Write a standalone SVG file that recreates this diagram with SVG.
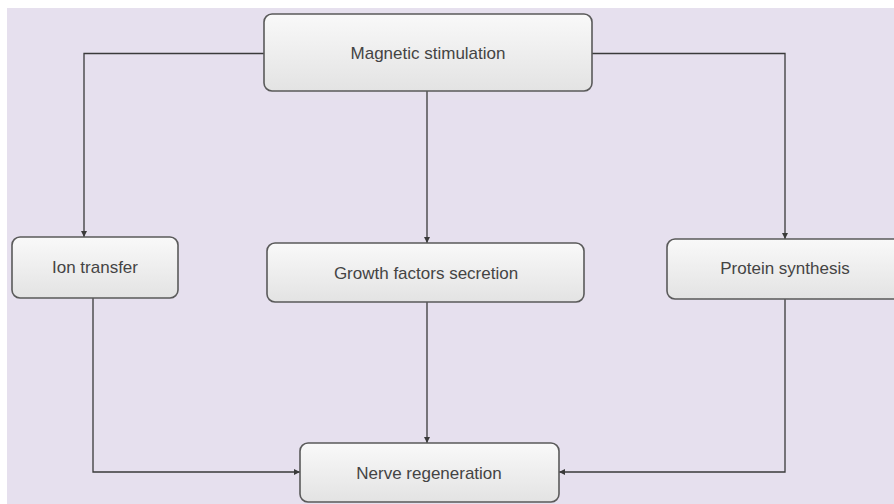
<svg xmlns="http://www.w3.org/2000/svg" width="894" height="504" viewBox="0 0 894 504">
<defs>
<linearGradient id="boxg" x1="0" y1="0" x2="0" y2="1">
<stop offset="0" stop-color="#f9f9f9"/>
<stop offset="1" stop-color="#e3e3e3"/>
</linearGradient>
<marker id="arr" viewBox="0 0 10 10" refX="10" refY="5" markerWidth="6" markerHeight="6" markerUnits="userSpaceOnUse" orient="auto">
<path d="M0,0 L10,5 L0,10 z" fill="#3a3a3a"/>
</marker>
</defs>
<style>
.box{fill:url(#boxg);stroke:#5a5a5a;stroke-width:1.6}
.lbl{font-family:"Liberation Sans",Arial,sans-serif;font-size:17px;fill:#444;text-anchor:middle}
.con{fill:none;stroke:#3a3a3a;stroke-width:1.3;marker-end:url(#arr)}
</style>
<rect x="0" y="0" width="894" height="504" fill="#ffffff"/>
<rect x="7" y="8" width="887" height="496" fill="#e6e0ee"/>
<g id="connectors">
<path class="con" d="M264,53.5 H84 V237"/>
<path class="con" d="M592,53.5 H785 V239"/>
<path class="con" d="M427,91 V243"/>
<path class="con" d="M93,298 V472 H300"/>
<path class="con" d="M427,302 V443"/>
<path class="con" d="M785,299 V472 H559"/>
</g>
<g id="magnetic">
<rect class="box" x="264" y="14" width="328" height="77" rx="8"/>
<text class="lbl" x="428" y="59">Magnetic stimulation</text>
</g>
<g id="ion">
<rect class="box" x="12" y="237" width="166" height="61" rx="8"/>
<text class="lbl" x="95" y="273">Ion transfer</text>
</g>
<g id="growth">
<rect class="box" x="267" y="243" width="317" height="59" rx="8"/>
<text class="lbl" x="426" y="279">Growth factors secretion</text>
</g>
<g id="protein">
<rect class="box" x="667" y="239" width="240" height="60" rx="8"/>
<text class="lbl" x="785" y="274">Protein synthesis</text>
</g>
<g id="nerve">
<rect class="box" x="300" y="443" width="259" height="59" rx="8"/>
<text class="lbl" x="429" y="479">Nerve regeneration</text>
</g>
</svg>
